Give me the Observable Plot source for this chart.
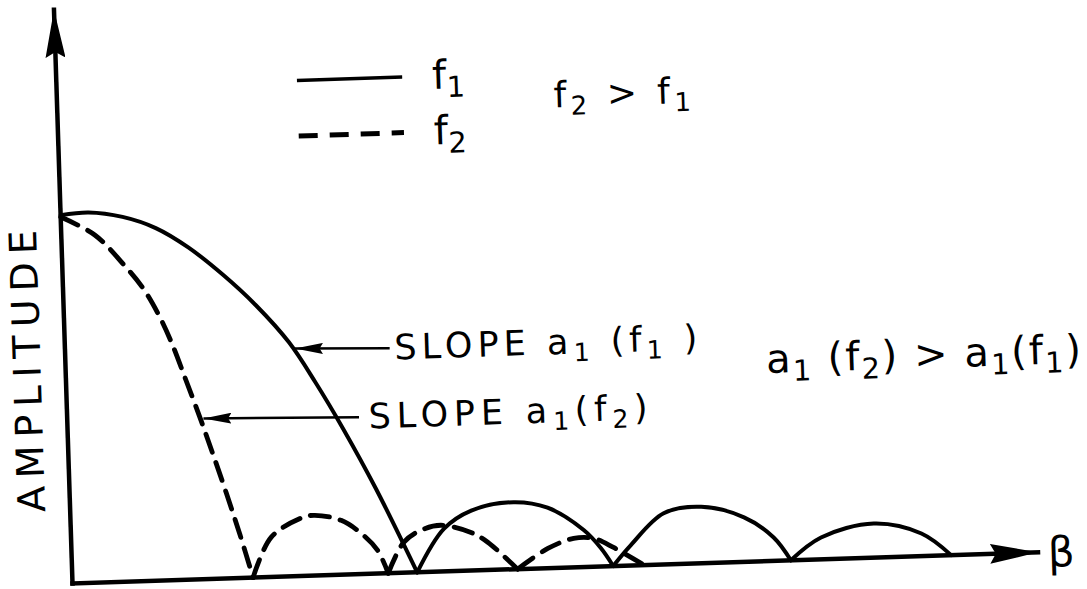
<!DOCTYPE html>
<html>
<head>
<meta charset="utf-8">
<script src="https://cdn.jsdelivr.net/npm/d3@7"></script>
<script src="https://cdn.jsdelivr.net/npm/@observablehq/plot@0.6"></script>
<style>
  html, body { margin: 0; padding: 0; background: #fff; overflow: hidden; }
  #chart svg { display: block; overflow: visible; transform: rotate(-1.85deg); transform-origin: 72px 583px; }
</style>
</head>
<body>
<div id="chart"></div>
<script>
// ---------- data ----------
const betaMax = 10;     // extent of the β axis (arbitrary units)
const ampMax = 1.55;    // extent of the amplitude axis (main-lobe peak = 1)

// f1 (solid): lobes separated by nulls
const f1Lobe = [1,1,1,1,1,1,1,1,1,1,1,1, 2,2,2,2,2,2,2,2, 3,3,3,3,3,3,3, 4,4,4,4,4];
const f1Beta = [0,0.29,0.64,0.98,1.31,1.66,1.99,2.32,2.58,2.85,3.17,3.57,
                3.57,3.86,4.15,4.59,4.94,5.31,5.48,5.60,
                5.60,5.79,6.14,6.53,6.97,7.27,7.44,
                7.44,7.76,8.31,8.80,9.10];
const f1Amp  = [0.995,1.0,0.985,0.952,0.897,0.82,0.735,0.632,0.522,0.395,0.23,0,
                0,0.115,0.162,0.181,0.163,0.099,0.049,0,
                0,0.055,0.138,0.152,0.12,0.063,0,
                0,0.059,0.092,0.061,0];

// f2 (dashed)
const f2Lobe = [1,1,1,1,1,1,1,1,1,1,1,1, 2,2,2,2,2,2,2,2, 3,3,3,3,3,3,3, 4,4,4,4,4,4];
const f2Beta = [0,0.35,0.64,0.83,0.98,1.10,1.24,1.37,1.49,1.62,1.75,1.87,
                1.87,2.07,2.38,2.52,2.80,3.03,3.17,3.27,
                3.27,3.44,3.62,3.83,4.14,4.31,4.61,
                4.61,4.93,5.20,5.41,5.61,5.92];
const f2Amp  = [0.99,0.938,0.855,0.79,0.718,0.645,0.54,0.44,0.342,0.232,0.116,0,
                0,0.107,0.156,0.163,0.147,0.104,0.062,0,
                0,0.082,0.113,0.125,0.103,0.075,0,
                0,0.053,0.078,0.076,0.05,0];

// legend
const legendLabels = ["f_1", "f_2"];
const legendAmp = [1.338, 1.188];

// slope annotations
const noteLabels = ["SLOPE a_1 (f_1 )", "SLOPE a_1(f_2)"];
const noteBeta = [3.41, 3.12];
const noteAmp = [0.607, 0.423];
const arrowBetaFrom = [3.36, 3.02];
const arrowAmpFrom = [0.607, 0.424];
const arrowBetaTo = [2.38, 1.41];
const arrowAmpTo = [0.615, 0.434];

// relations
const relationLabels = ["a_1 (f_2) > a_1(f_1)", "f_2 > f_1"];
const relationBeta = [7.25, 5.14];
const relationAmp = [0.542, 1.274];

const yLabel = "AMPLITUDE";
const xLabel = "β";

// ---------- tables ----------
const toRows = (lobes, betas, amps) => betas.map((b, i) => ({beta: b, amp: amps[i], lobe: lobes[i]}));
const f1Rows = toRows(f1Lobe, f1Beta, f1Amp);
const f2Rows = toRows(f2Lobe, f2Beta, f2Amp);
const axisRows = [
  {x1: 0, y1: 0, x2: betaMax, y2: 0},
  {x1: 0, y1: 0, x2: 0, y2: ampMax}
];
const legendRows = legendLabels.map((l, i) => ({label: l, amp: legendAmp[i]}));
const noteRows = noteLabels.map((l, i) => ({label: l, beta: noteBeta[i], amp: noteAmp[i]}));
const arrowRows = arrowBetaFrom.map((b, i) => ({b1: b, a1: arrowAmpFrom[i], b2: arrowBetaTo[i], a2: arrowAmpTo[i]}));
const relRows = relationLabels.map((l, i) => ({label: l, beta: relationBeta[i], amp: relationAmp[i]}));

const font = "DejaVu Sans";

const chart = Plot.plot({
  width: 1087,
  height: 589,
  marginLeft: 72,
  marginRight: 49,
  marginTop: 9,
  marginBottom: 6,
  x: {domain: [0, betaMax], axis: null},
  y: {domain: [0, ampMax], axis: null},
  style: {fontFamily: font, background: "white", color: "black", overflow: "visible"},
  marks: [
    // axes
    Plot.link(axisRows, {x1: "x1", y1: "y1", x2: "x2", y2: "y2", stroke: "black", strokeWidth: 4.5, strokeLinecap: "square"}),
    // legend lines
    Plot.link(legendRows.slice(0, 1), {x1: 2.49, x2: 3.58, y1: "amp", y2: "amp", stroke: "black", strokeWidth: 3.5}),
    Plot.link(legendRows.slice(1, 2), {x1: 2.49, x2: 3.58, y1: "amp", y2: "amp", stroke: "black", strokeWidth: 5, strokeDasharray: "19,12"}),
    // annotation arrows
    Plot.link(arrowRows, {x1: "b1", y1: "a1", x2: "b2", y2: "a2", stroke: "black", strokeWidth: 2.5}),
    // curves
    Plot.line(f1Rows, {x: "beta", y: "amp", z: "lobe", curve: "catmull-rom", stroke: "black", strokeWidth: 4, strokeLinejoin: "round"}),
    Plot.line(f2Rows, {x: "beta", y: "amp", z: "lobe", curve: "catmull-rom", stroke: "black", strokeWidth: 4.8, strokeDasharray: "19,11"}),
    // texts
    Plot.text(legendRows, {x: 3.89, y: "amp", text: "label", textAnchor: "start", lineAnchor: "middle", fontSize: 40, fontFamily: font}),
    Plot.text(noteRows, {x: "beta", y: "amp", text: "label", textAnchor: "start", lineAnchor: "middle", fontSize: 35, fontFamily: font}),
    Plot.text(relRows.slice(0, 1), {x: "beta", y: "amp", text: "label", textAnchor: "start", lineAnchor: "middle", fontSize: 40, fontFamily: font}),
    Plot.text(relRows.slice(1, 2), {x: "beta", y: "amp", text: "label", textAnchor: "start", lineAnchor: "middle", fontSize: 36, fontFamily: font}),
    Plot.text([yLabel], {x: -0.385, y: 0.577, text: d => d, rotate: -90, textAnchor: "middle", lineAnchor: "middle", fontSize: 38, fontFamily: font}),
    Plot.text([xLabel], {x: 10.10, y: -0.004, text: d => d, textAnchor: "start", lineAnchor: "middle", fontSize: 42, fontFamily: font})
  ]
});

document.getElementById("chart").appendChild(chart);

// ---------- post styling: filled arrowheads, subscripts, letter spread ----------
const svg = d3.select(chart);
const defs = svg.insert("defs", ":first-child");
function head(id, len, half) {
  defs.append("marker")
    .attr("id", id)
    .attr("viewBox", `0 ${-half} ${len} ${2 * half}`)
    .attr("refX", len).attr("refY", 0)
    .attr("markerUnits", "userSpaceOnUse")
    .attr("markerWidth", len).attr("markerHeight", 2 * half)
    .attr("orient", "auto")
    .append("path")
    .attr("d", `M0,${-half}L${len},0L0,${half}L${len * 0.12},0Z`)
    .attr("fill", "black");
}
head("ax-head", 48, 10);
head("note-head", 28, 5.5);
const linkGroups = svg.selectAll('g[aria-label="link"]').nodes();
d3.select(linkGroups[0]).selectAll("path,line").attr("marker-end", "url(#ax-head)");
d3.select(linkGroups[3]).selectAll("path,line").attr("marker-end", "url(#note-head)");

const spread = {
  "SLOPE a_1 (f_1 )": 303,
  "SLOPE a_1(f_2)": 279,
  "a_1 (f_2) > a_1(f_1)": 315,
  "f_2 > f_1": 137,
  "AMPLITUDE": 282
};
svg.selectAll("text").each(function () {
  const t = this.textContent;
  if (spread[t]) {
    this.setAttribute("textLength", spread[t]);
    this.setAttribute("lengthAdjust", "spacing");
  }
  if (!t.includes("_")) return;
  const parts = t.split(/_(\d)/);
  this.textContent = "";
  let afterSub = false;
  parts.forEach((p, i) => {
    if (p === "") return;
    const ts = d3.select(this).append("tspan").text(p);
    if (i % 2 === 1) {
      ts.attr("font-size", "72%").attr("dy", "0.3em");
      afterSub = true;
    } else if (afterSub) {
      ts.attr("dy", "-0.216em");
      afterSub = false;
    }
  });
});
</script>
</body>
</html>
